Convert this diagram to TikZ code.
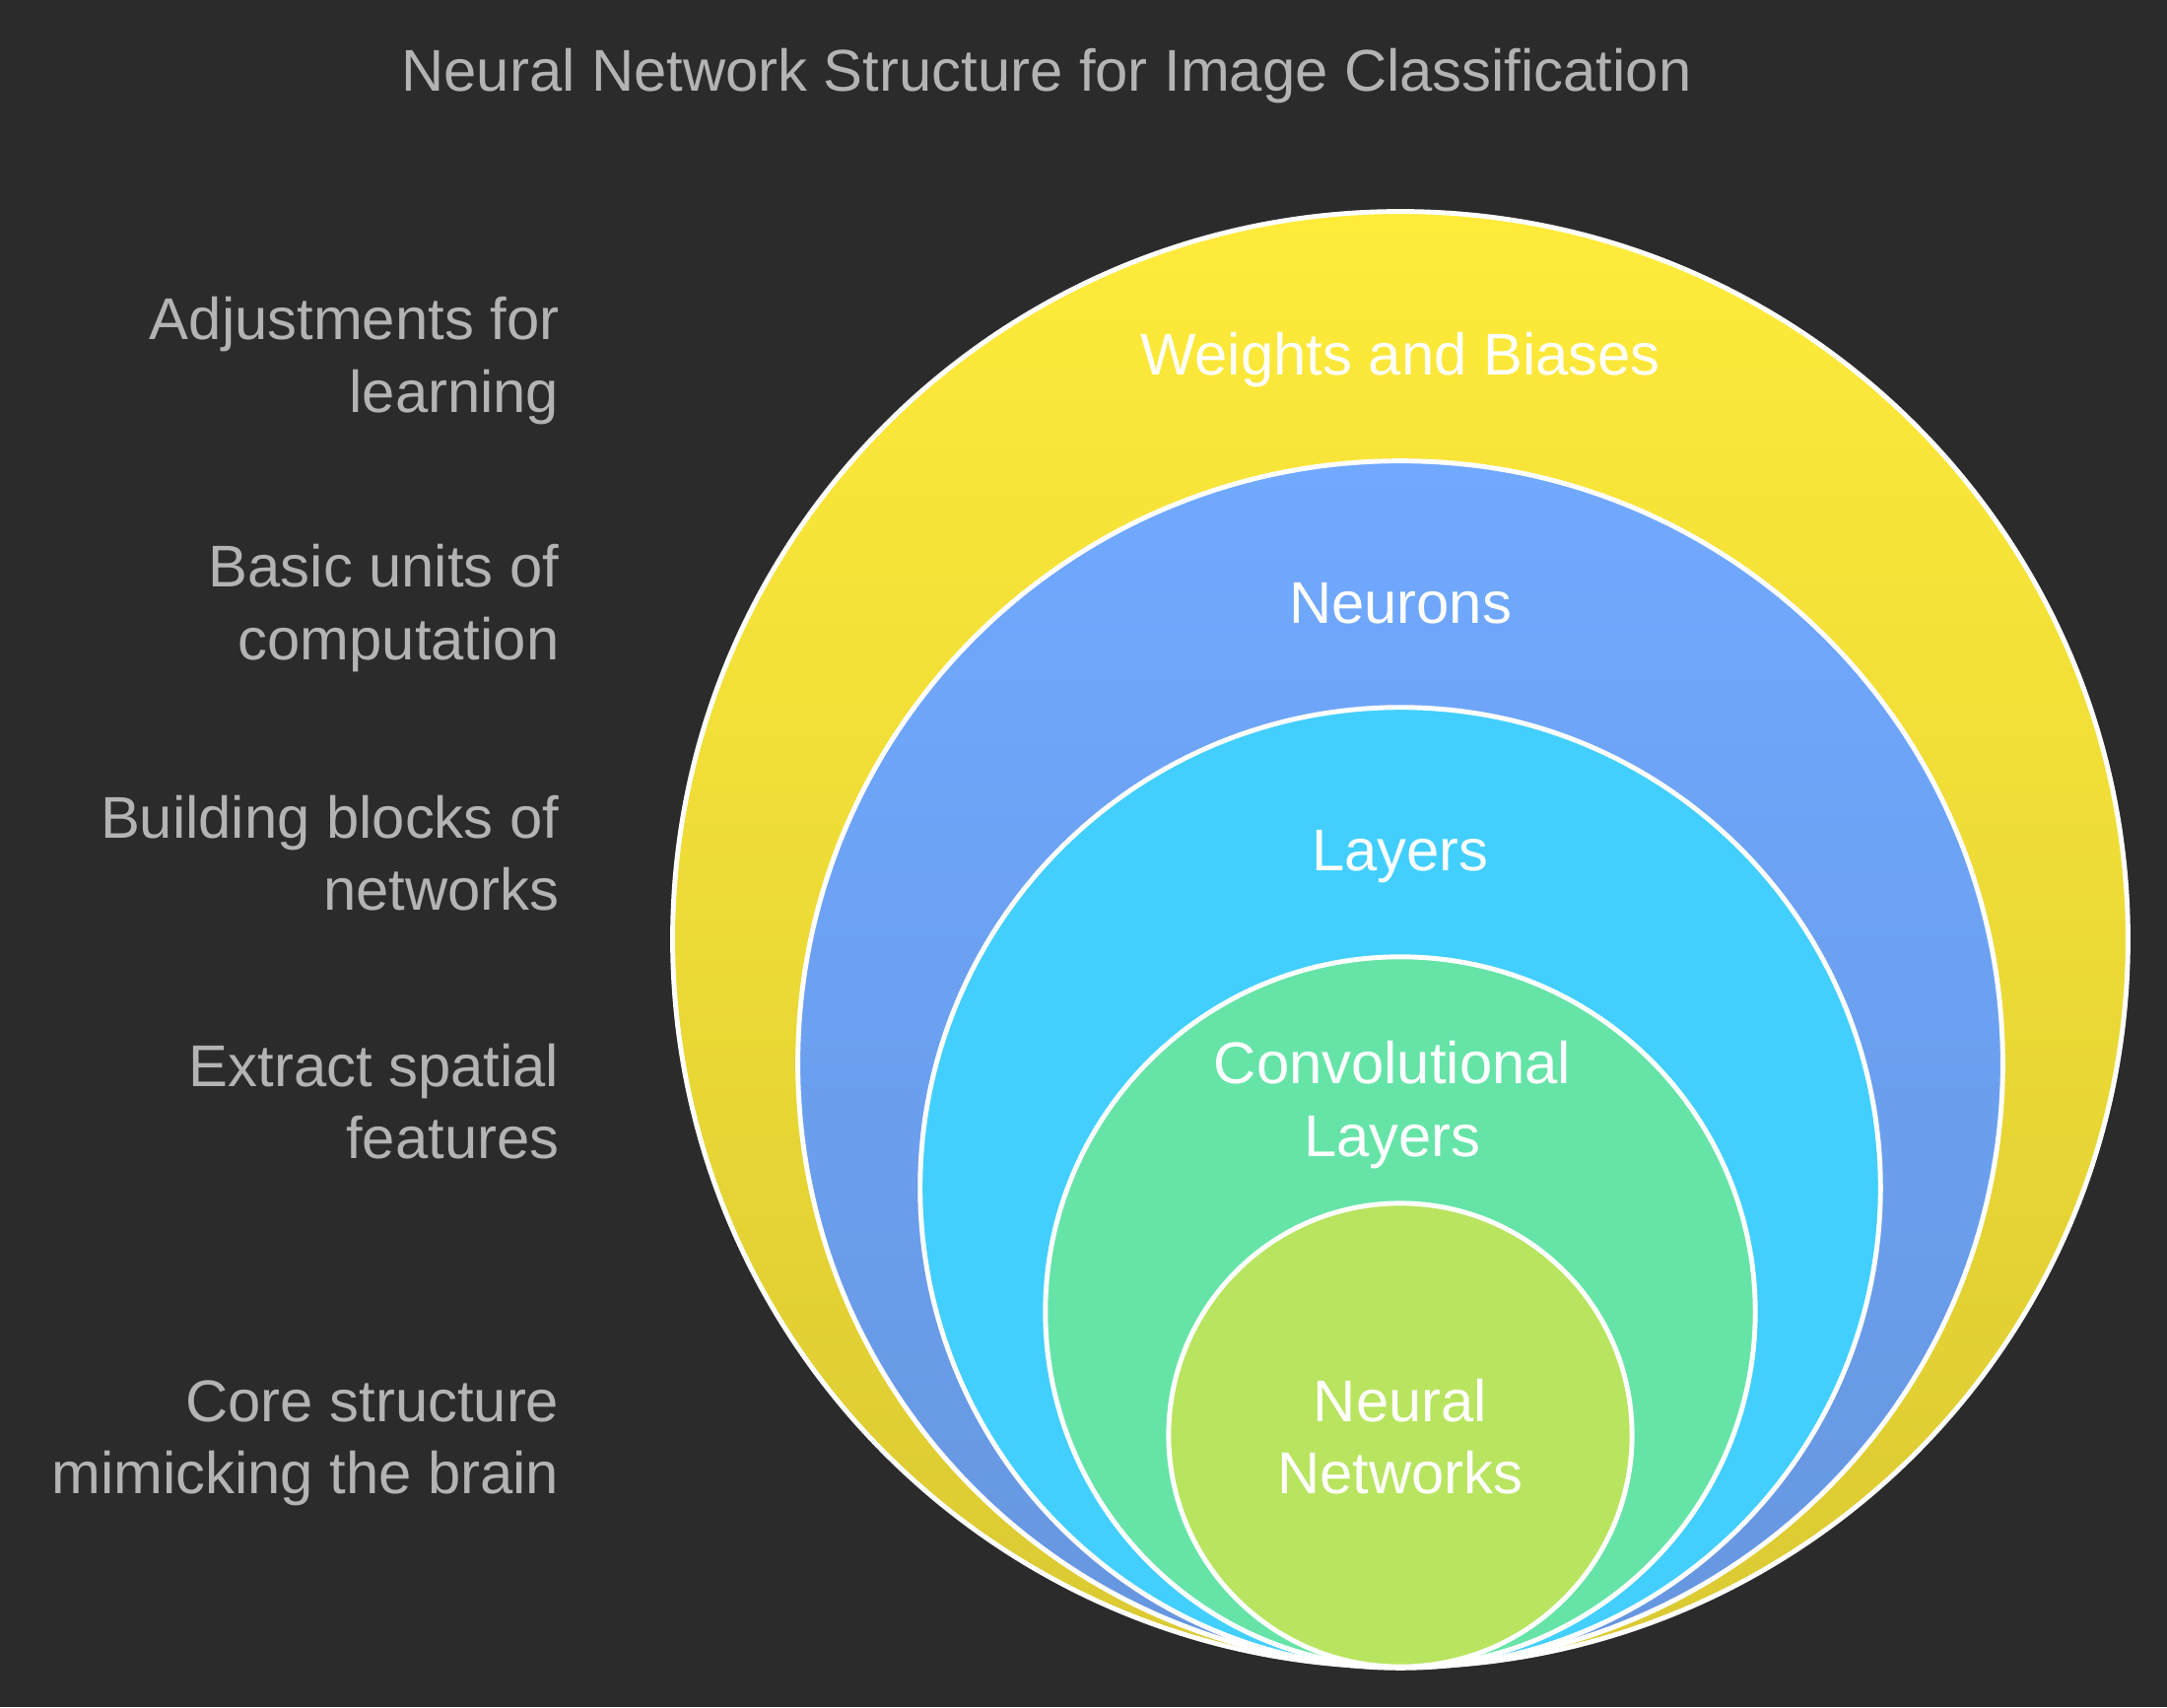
\documentclass[tikz,border=0pt]{standalone}
\usepackage{fontspec}
\setmainfont{Liberation Sans}
\usepackage{xcolor}

\definecolor{bgdark}{HTML}{2B2B2B}
\definecolor{greytext}{HTML}{B3B3B3}
\definecolor{yellowtop}{HTML}{FFEB3A}
\definecolor{yellowbot}{HTML}{DAC932}
\definecolor{bluetop}{HTML}{70A9FF}
\definecolor{bluebot}{HTML}{6796DF}
\definecolor{cyanfill}{HTML}{42CFFE}
\definecolor{greenfill}{HTML}{66E4A8}
\definecolor{limefill}{HTML}{B8E45F}

\tikzset{
  ring/.style={circle, draw=white, line width=1.4pt, inner sep=0pt},
  sidetext/.style={text=greytext, align=right, anchor=east, inner sep=0pt,
    font=\fontsize{17pt}{20.8pt}\selectfont},
  ringtext/.style={text=white, align=center,
    font=\fontsize{17pt}{20.8pt}\selectfont}
}

\begin{document}
\begin{tikzpicture}[x=0.01cm,y=-0.01cm]
\fill[bgdark] (0,0) rectangle (2199,1732);
\useasboundingbox (0,0) rectangle (2199,1732);
\node[text=greytext, font=\fontsize{17pt}{20.8pt}\selectfont] (title) at (1062,77) {Neural Network Structure for Image Classification};
% nested circles, all touching at the bottom
\node[ring, minimum size=14.76cm, top color=yellowtop, bottom color=yellowbot] (weights) at (1421,953) {};
\node[ring, minimum size=12.22cm, top color=bluetop, bottom color=bluebot] (neurons) at (1421,1079) {};
\node[ring, minimum size=9.74cm, fill=cyanfill] (layers) at (1421,1205) {};
\node[ring, minimum size=7.2cm, fill=greenfill] (conv) at (1421,1331) {};
\node[ring, minimum size=4.7cm, fill=limefill] (nets) at (1421,1456) {};
% labels inside the circles
\node[ringtext] (weightslbl) at (1421,365) {Weights and Biases};
\node[ringtext] (neuronslbl) at (1421,612) {Neurons};
\node[ringtext] (layerslbl) at (1421,869) {Layers};
\node[ringtext] (convlbl) at (1413,1121) {Convolutional\\Layers};
\node[ringtext] (netslbl) at (1421,1458) {Neural\\Networks};
% descriptions on the left
\foreach \i/\y/\label in {1/366/{Adjustments for\\learning},2/617/{Basic units of\\computation},3/866/{Building blocks of\\networks},4/1118/{Extract spatial\\features},5/1464/{Core structure\\mimicking the brain}}
  \node[sidetext] (desc\i) at (568,\y) {\label};
\end{tikzpicture}
\end{document}
